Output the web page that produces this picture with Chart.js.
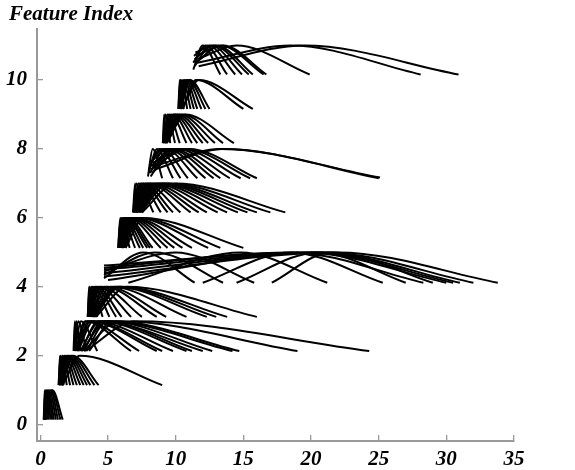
<!DOCTYPE html>
<html><head><meta charset="utf-8">
<script src="https://cdn.jsdelivr.net/npm/chart.js@4.4.0/dist/chart.umd.min.js"></script>
<style>html,body{margin:0;padding:0;background:#fff}#wrap{width:575px;height:470px;position:relative}</style>
</head><body><div id="wrap"><canvas id="c" width="575" height="470"></canvas></div>
<script>
const titleText = "Feature Index";
const xTicks = [0, 5, 10, 15, 20, 25, 30, 35];
const yTicks = [0, 2, 4, 6, 8, 10];
const peakLevels = [1, 2, 3, 4, 5, 6, 7, 8, 9, 10, 11];
const baseLevels = [0.15, 1.15, 2.14, 3.13, 4.12, 5.13, 6.16, 7.15, 8.17, 9.16, 10.16];

// each curve: [xStart, xPeak, xEnd] (optionally yStart, yEnd)
const group1 = [[0.25,0.32,0.4],[0.25,0.38,0.5],[0.27,0.45,0.62],[0.28,0.5,0.75],[0.3,0.55,0.88],
  [0.3,0.62,1.0],[0.32,0.7,1.15],[0.33,0.78,1.3],[0.35,0.85,1.48],[0.36,0.9,1.65]];
const group2 = [[1.35,1.45,1.5],[1.35,1.5,1.7],[1.4,1.6,1.95],[1.4,1.65,2.2],[1.45,1.75,2.45],
  [1.45,1.8,2.7],[1.5,1.9,2.95],[1.5,2.0,3.2],[1.55,2.1,3.45],[1.55,2.2,3.7],[1.6,2.3,4.0],
  [1.6,2.4,4.3],[1.65,2.9,9.0]];
const group3 = [[2.45,2.55,2.65],[2.5,2.65,2.95],[2.5,2.8,3.4],[2.55,3.0,4.2],[2.6,3.3,6.7],
  [2.65,3.4,7.3],[2.7,3.6,8.6],[2.75,3.7,9.0],[2.8,3.9,9.8],[3.0,4.3,10.8],[3.2,4.6,11.2],
  [2.95,4.4,12.0],[3.4,4.9,12.7],[3.05,4.9,14.2],[3.6,5.3,14.7],[3.2,5.8,19.0],[3.3,7.0,24.3]];
const group4 = [[3.5,3.6,3.65],[3.5,3.65,3.9],[3.55,3.75,4.2],[3.55,3.85,4.6],[3.6,3.95,5.1],
  [3.6,4.05,5.6],[3.65,4.15,6.0],[3.65,4.3,6.7],[3.7,4.45,7.5],[3.75,4.7,8.6],[3.8,4.9,9.3],
  [3.85,5.2,10.8],[3.9,5.5,12.3],[3.95,5.7,13.0],[4.0,5.9,13.8],[4.1,6.4,16.0]];
const group5 = [[4.7,7.6,11.4,4.25,4.12],[4.7,8.5,13.5,4.35,4.12],[4.7,10.0,15.8,4.45,4.12],
  [6.5,14.8,21.2,4.12,4.12],[12.0,18.5,25.3,4.12,4.12],[14.5,20.5,27.0,4.12,4.12],
  [17.1,21.5,29.0,4.12,4.12],[4.7,18.5,28.3,4.55,4.12],[4.7,19.5,30.0,4.62,4.12],
  [4.7,20.5,31.0,4.5,4.12],[4.7,21.0,32.0,4.4,4.12],[4.7,22.0,33.8,4.3,4.12],[5.0,20.0,30.5,4.2,4.12]];
const group6 = [[5.75,5.9,6.1],[5.75,5.95,6.6],[5.8,6.05,7.0],[5.8,6.1,7.35],[5.85,6.2,7.6],
  [5.85,6.25,7.9],[5.9,6.3,8.1],[5.9,6.4,8.3],[5.95,6.5,8.9],[6.0,6.6,9.4],[6.0,6.7,9.9],
  [6.05,6.8,10.5],[6.1,6.9,11.2],[6.1,7.1,12.4],[6.2,7.3,13.3],[6.3,7.6,15.0]];
const group7 = [[6.85,7.0,7.15],[6.85,7.1,7.6],[6.9,7.25,8.35],[6.9,7.4,8.9],[6.95,7.5,9.4],
  [7.0,7.6,9.8],[7.0,7.75,10.35],[7.05,7.9,11.1],[7.1,8.0,11.7],[7.1,8.2,12.3],[7.15,8.4,13.1],
  [7.2,8.6,13.8],[7.25,8.8,14.6],[7.3,9.0,15.3],[7.35,9.2,16.0],[7.4,9.5,17.0],[7.5,10.0,18.1]];
const group8 = [[7.95,8.3,9.0,7.2,7.15],[8.0,8.6,9.8,7.3,7.15],[8.0,8.8,10.35,7.4,7.15],
  [8.05,9.0,10.9,7.5,7.15],[8.1,9.2,11.6,7.3,7.15],[8.1,9.4,12.2,7.6,7.15],[8.15,9.6,12.8,7.2,7.15],
  [8.2,9.8,13.3,7.5,7.15],[8.2,10.1,14.0,7.4,7.15],[8.25,10.4,14.8,7.3,7.15],[8.3,10.7,15.5,7.6,7.15],
  [8.3,11.0,16.0,7.5,7.15],[8.4,13.5,25.0,7.4,7.15],[8.4,13.3,25.1,7.5,7.17]];
const group9 = [[9.05,9.15,9.2],[9.05,9.25,9.6],[9.1,9.4,9.95],[9.1,9.5,10.3],[9.15,9.65,10.8],
  [9.15,9.8,11.2],[9.2,9.9,11.6],[9.2,10.0,12.0],[9.25,10.15,12.4],[9.3,10.3,12.9],
  [9.3,10.5,13.5],[9.35,10.7,14.3]];
const group10 = [[10.2,10.3,10.4],[10.2,10.35,10.6],[10.25,10.45,10.85],[10.25,10.55,11.1],
  [10.3,10.65,11.35],[10.3,10.75,11.6],[10.35,10.85,11.9],[10.4,10.95,12.2],[10.4,11.05,12.5],
  [10.5,11.5,15.0],[10.5,11.7,15.7]];
const group11 = [[11.3,12.0,13.3,10.3,10.16],[11.3,12.2,13.8,10.5,10.16],[11.35,12.4,14.4,10.7,10.16],
  [11.4,12.6,14.9,10.4,10.16],[11.4,12.8,15.4,10.6,10.16],[11.45,13.0,15.7,10.8,10.16],
  [11.5,13.3,16.5,10.5,10.16],[11.5,13.5,16.7,10.7,10.16],[11.6,14.5,19.9,10.6,10.16],
  [11.6,18.5,28.1,10.5,10.16],[11.7,19.5,30.9,10.4,10.16]];

const groups = [group1, group2, group3, group4, group5, group6, group7, group8, group9, group10, group11];

const datasets = [];
groups.forEach((g, gi) => {
  const peak = peakLevels[gi], base = baseLevels[gi];
  g.forEach(c => {
    datasets.push({
      data: [
        { x: c[0], y: c.length > 3 ? c[3] : base },
        { x: c[1], y: peak },
        { x: c[2], y: c.length > 4 ? c[4] : base }
      ],
      borderColor: '#000', borderWidth: 2, pointRadius: 0, fill: false,
      cubicInterpolationMode: 'monotone'
    });
  });
});

const tickFont = { family: 'Liberation Serif', size: 21, weight: 'bold', style: 'italic' };

const titlePlugin = {
  id: 'titleText',
  afterDraw(chart) {
    const ctx = chart.ctx;
    ctx.save();
    ctx.font = 'italic bold 21px "Liberation Serif"';
    ctx.fillStyle = '#000';
    ctx.textBaseline = 'alphabetic';
    ctx.textAlign = 'left';
    ctx.fillText(titleText, 9, 20);
    ctx.restore();
  }
};

new Chart(document.getElementById('c'), {
  type: 'line',
  data: { datasets },
  options: {
    responsive: false, animation: false, devicePixelRatio: 1,
    layout: { padding: { top: 25, right: 61, left: 0, bottom: 0 } },
    plugins: { legend: { display: false }, tooltip: { enabled: false } },
    scales: {
      x: {
        type: 'linear', min: -0.25, max: 35,
        afterBuildTicks: a => { a.ticks = xTicks.map(v => ({ value: v })); },
        afterFit: a => { a.height = 29; },
        border: { color: '#999', width: 2 },
        grid: { drawOnChartArea: false, drawTicks: true, tickLength: -6, color: '#999', lineWidth: 1.3 },
        ticks: { font: tickFont, color: '#000', padding: 12, maxRotation: 0, autoSkip: false }
      },
      y: {
        type: 'linear', min: -0.47, max: 11.49,
        afterBuildTicks: a => { a.ticks = yTicks.map(v => ({ value: v })); },
        afterFit: a => { a.width = 37; },
        border: { color: '#999', width: 2 },
        grid: { drawOnChartArea: false, drawTicks: true, tickLength: -6, color: '#999', lineWidth: 1.3 },
        ticks: { font: tickFont, color: '#000', padding: 16, autoSkip: false }
      }
    }
  },
  plugins: [titlePlugin]
});
</script></body></html>
